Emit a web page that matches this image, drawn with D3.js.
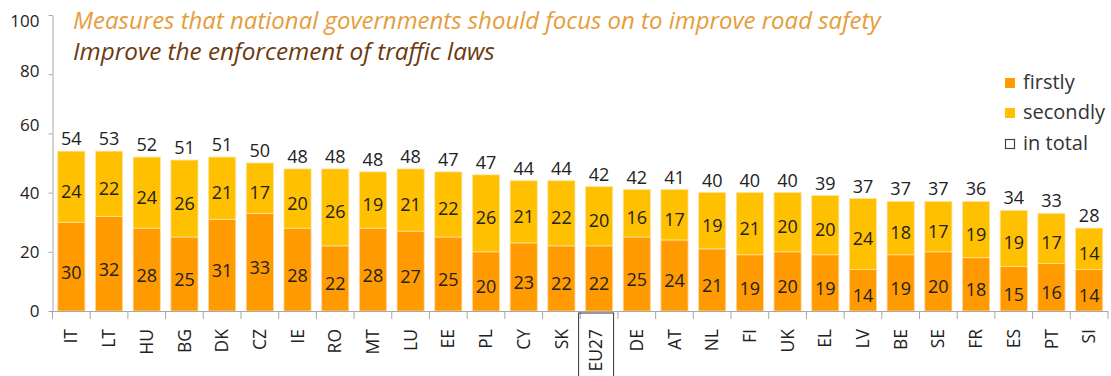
<!DOCTYPE html>
<html>
<head>
<meta charset="utf-8">
<script src="https://cdn.jsdelivr.net/npm/d3@7/dist/d3.min.js"></script>
<style>
  html, body { margin: 0; padding: 0; background: #fff; }
  svg { display: block; }
</style>
</head>
<body>
<svg id="chart" width="1111" height="376"></svg>
<script>
// Country codes, in display order
const countries = ["IT","LT","HU","BG","DK","CZ","IE","RO","MT","LU","EE","PL","CY","SK",
  "EU27","DE","AT","NL","FI","UK","EL","LV","BE","SE","FR","ES","PT","SI"];
// Share of respondents naming the measure first / second, and in total (%)
const firstly  = [30,32,28,25,31,33,28,22,28,27,25,20,23,22,22,25,24,21,19,20,19,14,19,20,18,15,16,14];
const secondly = [24,22,24,26,21,17,20,26,19,21,22,26,21,22,20,16,17,19,21,20,20,24,18,17,19,19,17,14];
const inTotal  = [54,53,52,51,51,50,48,48,48,48,47,47,44,44,42,42,41,40,40,40,39,37,37,37,36,34,33,28];
const yTicks = [0,20,40,60,80,100];
const seriesNames = ["firstly","secondly","in total"];
const titleLines = ["Measures that national governments should focus on to improve road safety",
  "Improve the enforcement of traffic laws"];

const COL_FIRST = "#ff9a00";
const COL_SECOND = "#ffc000";
const FONT = "'Open Sans', 'DejaVu Sans', sans-serif";

const svg = d3.select("#chart");

const x = d3.scaleBand().domain(countries).range([52.5, 1108])
  .paddingInner(0.28).paddingOuter(0.14);
const y = d3.scaleLinear().domain([0, 100]).range([311, 15]);

const rows = countries.map((c, i) => ({ c, f: firstly[i], s: secondly[i], t: inTotal[i] }));

// Y axis; the upper tick labels sit a little off their ticks
const labelShift = { 100: 6, 80: -3, 60: -8 };
const yAxis = svg.append("g").attr("transform", "translate(52.5,0)")
  .call(d3.axisLeft(y).tickValues(yTicks).tickSize(4).tickSizeOuter(0).tickPadding(9));
yAxis.select(".domain").attr("stroke", "#a8a8a8");
yAxis.selectAll(".tick line").attr("stroke", "#a8a8a8");
yAxis.selectAll(".tick text").attr("font-family", FONT).attr("font-size", 17).attr("fill", "#222")
  .attr("y", d => labelShift[d] || 0);

// Bars: firstly at the bottom, secondly stacked on top
const bars = svg.append("g");
bars.selectAll("rect.first").data(rows).join("rect")
  .attr("x", d => x(d.c)).attr("width", x.bandwidth())
  .attr("y", d => y(d.f)).attr("height", d => y(0) - y(d.f))
  .attr("fill", COL_FIRST).attr("stroke", "#ffd8a0").attr("stroke-width", 0.8);
bars.selectAll("rect.second").data(rows).join("rect")
  .attr("x", d => x(d.c)).attr("width", x.bandwidth())
  .attr("y", d => y(d.f + d.s)).attr("height", d => y(d.f) - y(d.f + d.s))
  .attr("fill", COL_SECOND).attr("stroke", "#ffe2a0").attr("stroke-width", 0.8);

// Segment and total labels
const labels = svg.append("g").attr("font-family", FONT).attr("font-size", 18)
  .attr("fill", "#222").attr("text-anchor", "middle");
labels.selectAll("text.f").data(rows).join("text")
  .attr("x", d => x(d.c) + x.bandwidth() / 2)
  .attr("y", d => (y(0) + y(d.f)) / 2 + 12)
  .text(d => d.f);
labels.selectAll("text.s").data(rows).join("text")
  .attr("x", d => x(d.c) + x.bandwidth() / 2)
  .attr("y", d => (y(d.f) + y(d.f + d.s)) / 2 + 11)
  .text(d => d.s);
labels.selectAll("text.t").data(rows).join("text")
  .attr("x", d => x(d.c) + x.bandwidth() / 2)
  .attr("y", d => y(d.f + d.s) - 6)
  .text(d => d.t);

// X axis: baseline with ticks between categories
const xAxis = svg.append("g");
const step = x.step();
const x0 = x.range()[0];
xAxis.append("line").attr("x1", x0).attr("x2", x.range()[1])
  .attr("y1", y(0) + 0.5).attr("y2", y(0) + 0.5).attr("stroke", "#a8a8a8");
xAxis.selectAll("line.tk").data(d3.range(countries.length + 1)).join("line")
  .attr("x1", i => x0 + i * step).attr("x2", i => x0 + i * step)
  .attr("y1", y(0)).attr("y2", y(0) + 8).attr("stroke", "#a8a8a8");
xAxis.selectAll("text").data(countries).join("text")
  .attr("transform", c => `translate(${x(c) + x.bandwidth() / 2 - (c === "EU27" ? 3 : 0)},329) rotate(-90)`)
  .attr("dy", "0.35em").attr("text-anchor", "end")
  .attr("font-family", FONT).attr("font-size", 17.5).attr("fill", "#222")
  .text(c => c);
// Frame around the EU average label
const eu = x("EU27") + x.bandwidth() / 2 - 3;
xAxis.append("rect").attr("x", eu - 17.5).attr("y", 313).attr("width", 35).attr("height", 80)
  .attr("fill", "none").attr("stroke", "#333").attr("stroke-width", 1);

// Titles
const titleSpecs = [
  { text: titleLines[0], y: 29, fill: "#e59d3c", width: 808 },
  { text: titleLines[1], y: 59.5, fill: "#6b3a10", width: 422 }
];
titleSpecs.forEach(t => {
  const el = svg.append("text").attr("x", 73).attr("y", t.y)
    .attr("font-family", FONT).attr("font-style", "italic").attr("font-size", 21)
    .attr("fill", t.fill).text(t.text);
  const w = el.node().getComputedTextLength();
  el.attr("font-size", 21 * t.width / w);
});

// Legend
const legend = svg.append("g").attr("font-family", FONT).attr("font-size", 20).attr("fill", "#333");
const legendY = [78, 108, 139];
seriesNames.forEach((name, i) => {
  const g = legend.append("g").attr("transform", `translate(1005,${legendY[i]})`);
  if (i < 2) {
    g.append("rect").attr("width", 10).attr("height", 10).attr("fill", i === 0 ? COL_FIRST : COL_SECOND);
  } else {
    g.append("rect").attr("x", 0.5).attr("y", 0.5).attr("width", 9).attr("height", 9)
      .attr("fill", "none").attr("stroke", "#444").attr("stroke-width", 1.2);
  }
  g.append("text").attr("x", 18).attr("y", 11).text(name);
});
</script>
</body>
</html>
